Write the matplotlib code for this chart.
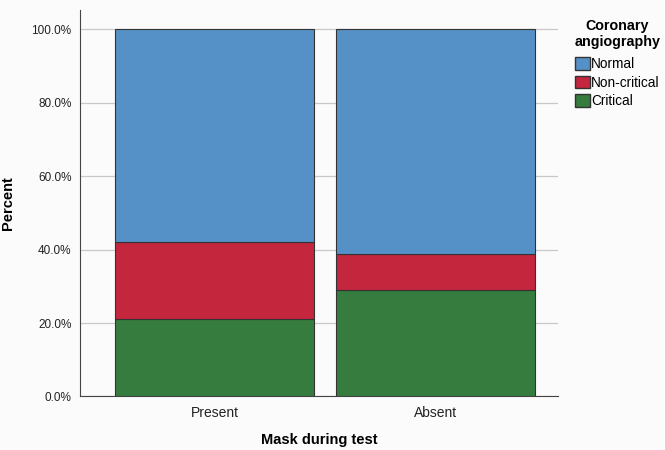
import matplotlib
matplotlib.use('Agg')
import matplotlib.pyplot as plt
import matplotlib.patches as mpatches
from matplotlib.ticker import FuncFormatter

plt.rcParams['font.family'] = ['Liberation Sans', 'DejaVu Sans']

categories = ['Present', 'Absent']
critical = [21.1, 29.0]
non_critical = [21.1, 9.7]
normal = [57.8, 61.3]

colors = {'Normal': '#5591c6', 'Non-critical': '#c4263d', 'Critical': '#367c3e'}
edge = '#333333'

fig = plt.figure(figsize=(6.65, 4.5), dpi=100)
fig.patch.set_facecolor('#fbfbfb')
ax = fig.add_axes([0.120, 0.119, 0.719, 0.859])
ax.set_facecolor('#fbfbfb')

x = range(len(categories))
bottom2 = [c + n for c, n in zip(critical, non_critical)]
ax.bar(x, critical, width=0.9, color=colors['Critical'], edgecolor=edge, linewidth=0.8, zorder=3)
ax.bar(x, non_critical, width=0.9, bottom=critical, color=colors['Non-critical'], edgecolor=edge, linewidth=0.8, zorder=3)
ax.bar(x, normal, width=0.9, bottom=bottom2, color=colors['Normal'], edgecolor=edge, linewidth=0.8, zorder=3)

ax.set_xlim(-0.61, 1.555)
ax.set_ylim(0, 105.3)
ax.set_yticks([0, 20, 40, 60, 80, 100])
ax.yaxis.set_major_formatter(FuncFormatter(lambda v, p: '%.1f%%' % v))
ax.set_xticks(list(x))
ax.set_xticklabels(categories)
ax.grid(axis='y', color='#c8c8c8', linewidth=0.9, zorder=0)
for s in ['top', 'right']:
    ax.spines[s].set_visible(False)
ax.spines['left'].set_color('#444444')
ax.spines['bottom'].set_color('#444444')
ax.tick_params(axis='y', length=0, labelsize=8.5, colors='#222222', pad=6)
ax.tick_params(axis='x', length=0, labelsize=10, colors='#222222', pad=7)

ax.set_ylabel('Percent', fontsize=10.5, fontweight='bold', labelpad=12)
ax.set_xlabel('Mask during test', fontsize=10.5, fontweight='bold', labelpad=9)

handles = [mpatches.Patch(facecolor=colors[k], edgecolor=edge, label=k) for k in ['Normal', 'Non-critical', 'Critical']]
leg = fig.legend(handles=handles, title='Coronary\nangiography', loc='upper left',
                 bbox_to_anchor=(0.864, 0.958), frameon=False, fontsize=9.8,
                 title_fontproperties={'weight': 'bold', 'size': 10.3},
                 handlelength=1.05, handleheight=1.05, handletextpad=0.12,
                 labelspacing=0.32, borderpad=0.0, borderaxespad=0.0)
leg._legend_box.align = 'center'
leg._legend_box.sep = 6
leg.get_title().set_multialignment('center')

fig.savefig('out.png', dpi=100, facecolor=fig.get_facecolor())
